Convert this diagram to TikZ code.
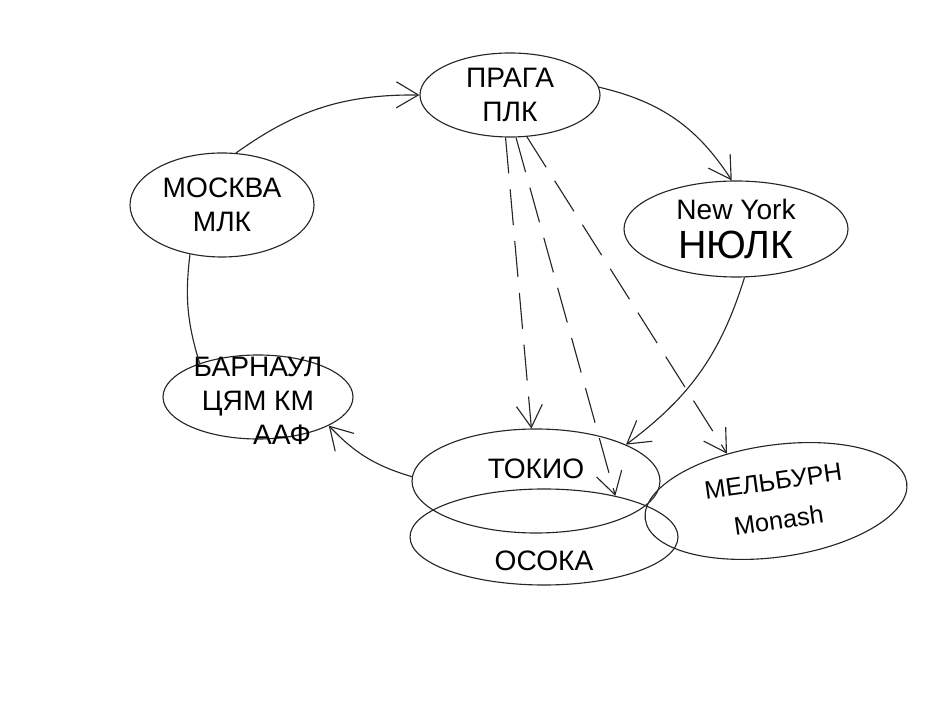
\documentclass[tikz,border=0pt]{standalone}
\usepackage{fontspec}
\setmainfont{Liberation Sans}
\usepackage{tikz}
\usetikzlibrary{shapes.geometric, arrows.meta, positioning, calc}

\begin{document}
\begin{tikzpicture}[
    city/.style={ellipse, draw=black!85, line width=0.8pt, inner sep=0pt, align=center, font=\fontsize{20}{24}\selectfont},
    cityname/.style={align=center, font=\fontsize{20}{24}\selectfont},
    arrow/.style={-{Straight Barb[length=5.5mm, width=6.5mm]}, line width=0.8pt, draw=black!85},
    flight/.style={arrow, dash pattern=on 0.9cm off 0.4cm}
]
\useasboundingbox (0,0) rectangle (23.325,18.125);

% === Cities ===
\node[city, minimum width=4.5cm, minimum height=2.1cm] (praga) at (12.75, 15.75) {ПРАГА\\ПЛК};
\node[city, minimum width=4.6cm, minimum height=2.6cm] (moskva) at (5.55, 13.0) {МОСКВА\\МЛК};
\node[city, minimum width=5.6cm, minimum height=2.4cm] (newyork) at (18.4, 12.4) {New York\\[4pt]{\fontsize{28}{30}\selectfont НЮЛК}};
\node[city, minimum width=4.75cm, minimum height=2.1cm] (barnaul) at (6.45, 8.2) {};
\node[cityname] (barnaul-txt) at ([yshift=-0.1cm]barnaul.center) {БАРНАУЛ\\ЦЯМ КМ\\\hspace*{1.2cm}ААФ};
\node[city, minimum width=6.2cm, minimum height=2.6cm] (tokio) at (13.4, 6.1) {};
\node[cityname] (tokio-txt) at ([yshift=0.3cm]tokio.center) {ТОКИО};
\node[city, minimum width=6.7cm, minimum height=2.4cm] (osoka) at (13.6, 4.7) {};
\node[cityname] (osoka-txt) at ([yshift=-0.6cm]osoka.center) {ОСОКА};
\node[city, minimum width=6.6cm, minimum height=2.8cm, rotate=8, font=\fontsize{18}{22}\selectfont] (melburn) at (19.4, 5.6) {МЕЛЬБУРН\\[6pt]Monash};

% === Round trip ===
\draw[arrow] (moskva.75) to[bend left=18] (praga.west);
\draw[arrow] (praga.5) to[bend left=22] (newyork.95);
\draw[arrow] (newyork.-80) to[bend left=18] (tokio.22);
\draw[arrow] (tokio.178) to[bend left=15] (barnaul.-22);
\draw[line width=0.8pt, draw=black!85] (barnaul.150) to[bend left=12] (moskva.-123);

% === Flights from Praga ===
\draw[flight] (praga.-96) -- (tokio.95);
\draw[flight] (praga.-82) -- (osoka.30);
\draw[flight] (praga.-68) -- (melburn.128);

\end{tikzpicture}
\end{document}
